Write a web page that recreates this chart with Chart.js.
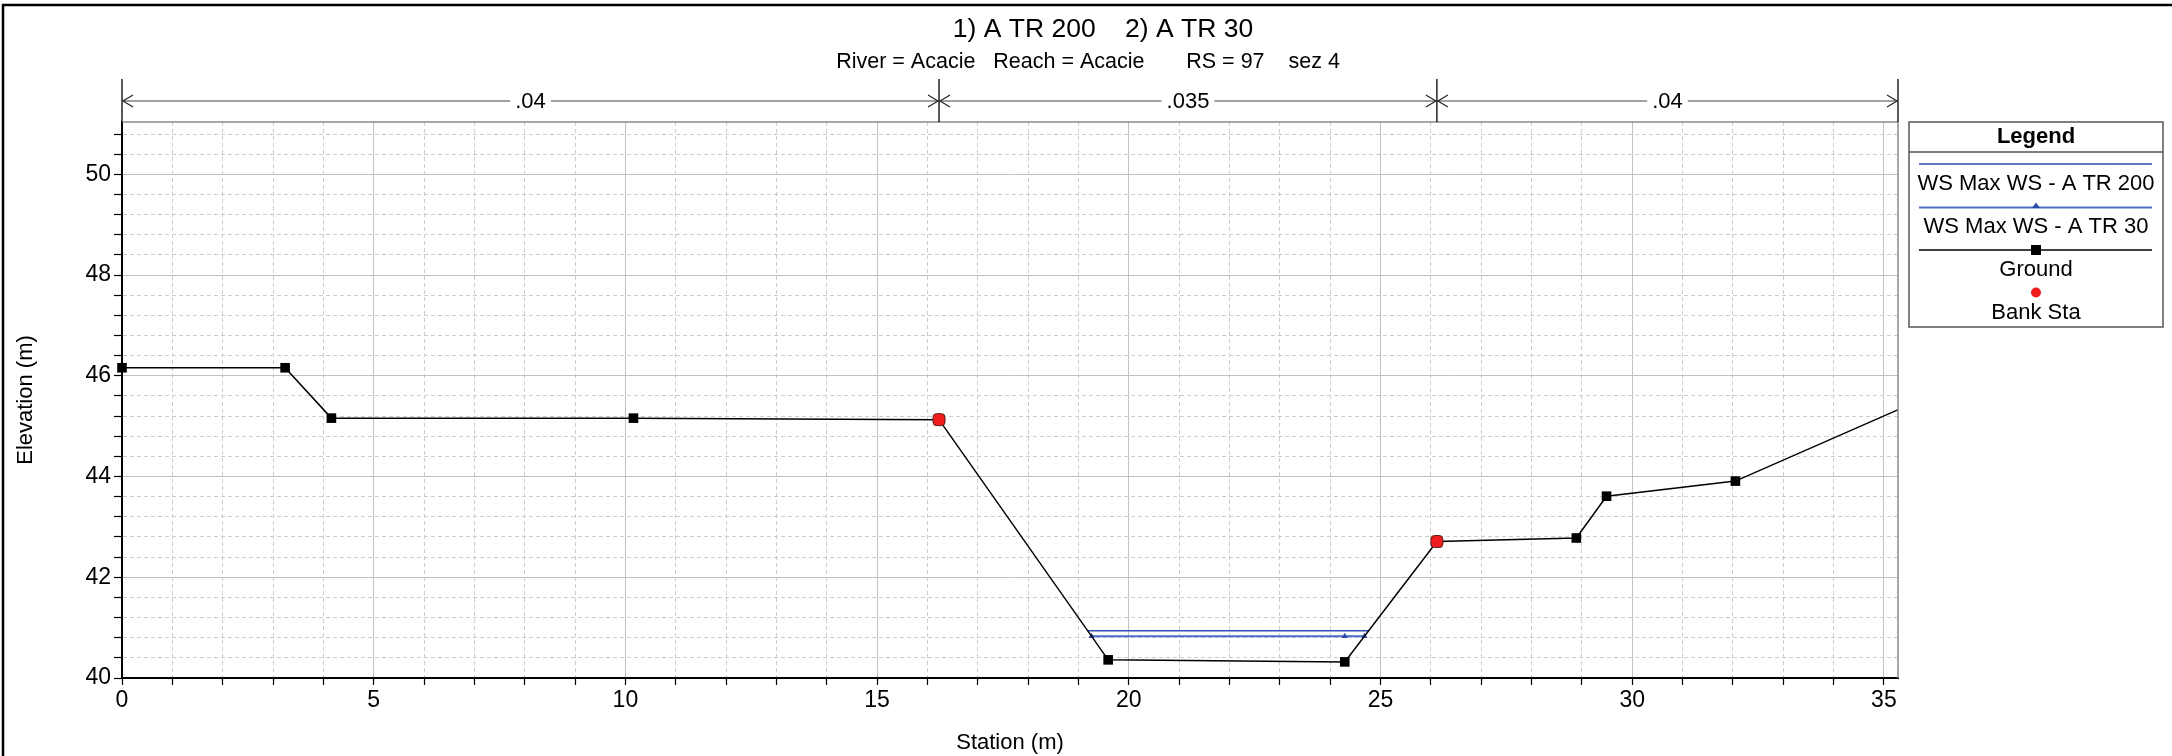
<!DOCTYPE html>
<html>
<head>
<meta charset="utf-8">
<script src="https://cdn.jsdelivr.net/npm/chart.js@4.4.0/dist/chart.umd.min.js"></script>
<style>
  html, body { margin: 0; padding: 0; background: #fff; }
</style>
</head>
<body>
<canvas id="xsChart" width="2172" height="756"></canvas>
<script>
// cross section RS 97 (sez 4), station / elevation in m
let groundSta = [0, 3.24, 4.16, 10.16, 16.23, 19.59, 24.29, 26.12, 28.89, 29.49, 32.05, 36.5];
let groundElev = [46.16, 46.16, 45.16, 45.16, 45.13, 40.36, 40.32, 42.71, 42.78, 43.61, 43.91, 45.86];

let bankSta = [16.23, 26.12];
let bankElev = [45.13, 42.71];

let ws200Sta = [19.19, 24.77];
let ws200Elev = [40.94, 40.94];

let ws30Sta = [19.26, 24.29, 24.68];
let ws30Elev = [40.83, 40.83, 40.83];

// manning n across the section
let nValues = ['.04', '.035', '.04'];
let nBounds = [0, 16.23, 26.12, 35.28];

let xTicksMajor = [0, 5, 10, 15, 20, 25, 30, 35];
let yTicksMajor = [40, 42, 44, 46, 48, 50];

const FONT = "'Liberation Sans', Arial, sans-serif";
const BLUE = '#2d4fb4';

function pts(xs, ys) {
    return xs.map((x, i) => ({x: x, y: ys[i]}));
}

function isMajor(v, list) {
    return list.some(m => Math.abs(m - v) < 1e-6);
}

let decor = {
    id: 'decor',
    beforeDraw(chart) {
        let ctx = chart.ctx;
        ctx.save();
        ctx.fillStyle = '#fff';
        ctx.fillRect(0, 0, chart.width, chart.height);
        ctx.restore();
    },
    afterDraw(chart) {
        let ctx = chart.ctx;
        let area = chart.chartArea;
        let xs = chart.scales.x;
        ctx.save();

        // outer frame
        ctx.strokeStyle = '#000';
        ctx.lineWidth = 2.5;
        ctx.beginPath();
        ctx.moveTo(3, 756);
        ctx.lineTo(3, 5);
        ctx.lineTo(2172, 5);
        ctx.stroke();

        // plot box top / right
        ctx.strokeStyle = '#8a8a8a';
        ctx.lineWidth = 1.5;
        ctx.beginPath();
        ctx.moveTo(area.left, area.top);
        ctx.lineTo(area.right, area.top);
        ctx.lineTo(area.right, area.bottom);
        ctx.stroke();

        // titles
        ctx.fillStyle = '#000';
        ctx.textAlign = 'center';
        ctx.textBaseline = 'middle';
        ctx.font = '26.5px ' + FONT;
        ctx.fillText('1) A TR 200    2) A TR 30', 1103, 30);
        ctx.font = '21.5px ' + FONT;
        ctx.fillText('River = Acacie   Reach = Acacie       RS = 97    sez 4', 1088, 62);

        // roughness bar
        let yR = 101, yTop = 79;
        let xb = nBounds.map(v => xs.getPixelForValue(v));
        ctx.strokeStyle = '#000';
        ctx.lineWidth = 1.3;
        xb.forEach(px => {
            ctx.beginPath();
            ctx.moveTo(px, yTop);
            ctx.lineTo(px, area.top);
            ctx.stroke();
        });
        ctx.strokeStyle = '#444';
        ctx.lineWidth = 1.2;
        ctx.beginPath();
        ctx.moveTo(xb[0], yR);
        ctx.lineTo(xb[xb.length - 1], yR);
        ctx.stroke();
        ctx.strokeStyle = '#222';
        for (let i = 0; i < nValues.length; i++) {
            let a = xb[i], b = xb[i + 1];
            ctx.beginPath();
            ctx.moveTo(a + 11, yR - 6);
            ctx.lineTo(a + 1, yR);
            ctx.lineTo(a + 11, yR + 6);
            ctx.moveTo(b - 11, yR - 6);
            ctx.lineTo(b - 1, yR);
            ctx.lineTo(b - 11, yR + 6);
            ctx.stroke();
            let cx = (a + b) / 2;
            ctx.font = '22px ' + FONT;
            let w = ctx.measureText(nValues[i]).width;
            ctx.fillStyle = '#fff';
            ctx.fillRect(cx - w / 2 - 5, yR - 12, w + 10, 24);
            ctx.fillStyle = '#000';
            ctx.fillText(nValues[i], cx, yR + 1);
        }

        // legend box
        let lx = 1909, rx = 2163, ty = 122, by = 327;
        let mid = (lx + rx) / 2;
        ctx.strokeStyle = '#555';
        ctx.lineWidth = 1.5;
        ctx.strokeRect(lx, ty, rx - lx, by - ty);
        ctx.beginPath();
        ctx.moveTo(lx, 152);
        ctx.lineTo(rx, 152);
        ctx.stroke();
        ctx.fillStyle = '#000';
        ctx.font = 'bold 22px ' + FONT;
        ctx.fillText('Legend', mid, 137);
        ctx.font = '22px ' + FONT;

        let l1 = 1919, l2 = 2152;
        ctx.strokeStyle = BLUE;
        ctx.lineWidth = 1.5;
        ctx.beginPath(); ctx.moveTo(l1, 164); ctx.lineTo(l2, 164); ctx.stroke();
        ctx.fillText('WS Max WS - A TR 200', mid, 184);

        ctx.strokeStyle = '#4a6cc4';
        ctx.lineWidth = 2;
        ctx.beginPath(); ctx.moveTo(l1, 207.5); ctx.lineTo(l2, 207.5); ctx.stroke();
        ctx.fillStyle = '#2b4aa6';
        ctx.beginPath();
        ctx.moveTo(mid, 202.5); ctx.lineTo(mid + 4, 208); ctx.lineTo(mid - 4, 208);
        ctx.closePath(); ctx.fill();
        ctx.fillStyle = '#000';
        ctx.fillText('WS Max WS - A TR 30', mid, 227);

        ctx.strokeStyle = '#000';
        ctx.lineWidth = 1.5;
        ctx.beginPath(); ctx.moveTo(l1, 250); ctx.lineTo(l2, 250); ctx.stroke();
        ctx.fillRect(mid - 5, 245, 10, 10);
        ctx.fillText('Ground', mid, 270);

        ctx.fillStyle = '#ee1c1c';
        ctx.beginPath(); ctx.arc(mid, 292.5, 5, 0, Math.PI * 2); ctx.fill();
        ctx.fillStyle = '#000';
        ctx.fillText('Bank Sta', mid, 313);

        ctx.restore();
    }
};

let xsChart = new Chart(document.querySelector('#xsChart'), {
    type: 'line',
    data: {
        datasets: [
            {
                label: 'Bank Sta',
                data: pts(bankSta, bankElev),
                showLine: false,
                pointStyle: 'rectRounded',
                pointRadius: 7,
                pointBackgroundColor: '#ee1c1c',
                pointBorderColor: '#5a2020',
                pointBorderWidth: 1,
                order: 0
            },
            {
                label: 'Ground',
                data: pts(groundSta, groundElev),
                borderColor: '#000',
                borderWidth: 1.5,
                pointStyle: 'rect',
                pointRadius: 6.8,
                pointBackgroundColor: '#000',
                pointBorderColor: '#000',
                pointBorderWidth: 0,
                clip: {left: 10, top: 10, right: 0, bottom: 10},
                order: 1
            },
            {
                label: 'WS Max WS - A TR 30',
                data: pts(ws30Sta, ws30Elev),
                borderColor: '#4a6cc4',
                borderWidth: 2,
                pointStyle: 'triangle',
                pointRadius: 3.5,
                pointBackgroundColor: '#2b4aa6',
                pointBorderColor: '#2b4aa6',
                pointBorderWidth: 0,
                order: 2
            },
            {
                label: 'WS Max WS - A TR 200',
                data: pts(ws200Sta, ws200Elev),
                borderColor: BLUE,
                borderWidth: 1.5,
                pointRadius: 0,
                order: 3
            }
        ]
    },
    options: {
        responsive: false,
        animation: false,
        devicePixelRatio: 1,
        events: [],
        layout: {padding: {left: 0, top: 122, right: 274, bottom: 0}},
        elements: {line: {tension: 0}},
        plugins: {
            legend: {display: false},
            tooltip: {enabled: false}
        },
        scales: {
            x: {
                type: 'linear',
                min: 0,
                max: 35.28,
                afterFit: s => { s.height = 78; },
                ticks: {
                    stepSize: 1,
                    autoSkip: false,
                    includeBounds: false,
                    maxRotation: 0,
                    padding: 2,
                    color: '#000',
                    font: {family: FONT, size: 23},
                    callback: v => isMajor(v, xTicksMajor) ? String(v) : ''
                },
                grid: {
                    color: c => c.tick && c.tick.value === 0 ? 'rgba(0,0,0,0)' : (c.tick && isMajor(c.tick.value, xTicksMajor) ? '#c2c2c2' : '#cdcdcd'),
                    lineWidth: 1,
                    tickLength: 7,
                    tickColor: '#000',
                    tickWidth: 1.2
                },
                border: {
                    color: '#000',
                    width: 2,
                    dash: c => c.tick && !isMajor(c.tick.value, xTicksMajor) ? [4, 3] : []
                },
                title: {
                    display: true,
                    text: 'Station (m)',
                    color: '#000',
                    font: {family: FONT, size: 22},
                    padding: {top: 0, bottom: 0}
                }
            },
            y: {
                type: 'linear',
                min: 40,
                max: 51.04,
                afterFit: s => { s.width = 122; },
                ticks: {
                    stepSize: 0.4,
                    autoSkip: false,
                    includeBounds: false,
                    padding: 3,
                    color: '#000',
                    font: {family: FONT, size: 23},
                    callback: v => isMajor(v, yTicksMajor) ? String(Math.round(v)) : ''
                },
                grid: {
                    color: c => c.tick && Math.abs(c.tick.value - 40) < 1e-6 ? 'rgba(0,0,0,0)' : (c.tick && isMajor(c.tick.value, yTicksMajor) ? '#c2c2c2' : '#cdcdcd'),
                    lineWidth: 1,
                    tickLength: 8,
                    tickColor: '#000',
                    tickWidth: 1.2
                },
                border: {
                    color: '#000',
                    width: 2,
                    dash: c => c.tick && !isMajor(c.tick.value, yTicksMajor) ? [4, 3] : []
                },
                title: {
                    display: true,
                    text: 'Elevation (m)',
                    color: '#000',
                    font: {family: FONT, size: 22},
                    padding: {top: 13, bottom: 0}
                }
            }
        }
    },
    plugins: [decor]
});
</script>
</body>
</html>
